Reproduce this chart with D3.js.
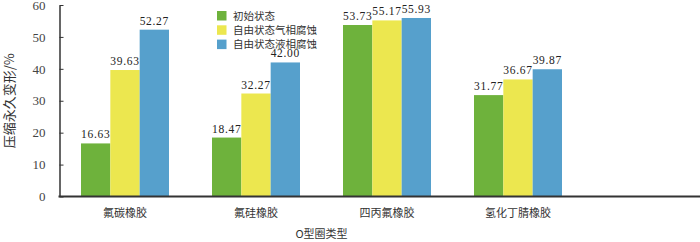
<!DOCTYPE html>
<html>
<head>
<meta charset="utf-8">
<script src="https://cdn.jsdelivr.net/npm/d3@7"></script>
<style>
  body { margin: 0; background: #fff; }
  svg { display: block; }
</style>
</head>
<body>
<svg id="chart" width="700" height="242"></svg>
<script>
// chart data
const categories = ['氟碳橡胶', '氟硅橡胶', '四丙氟橡胶', '氢化丁腈橡胶'];
const seriesNames = ['初始状态', '自由状态气相腐蚀', '自由状态液相腐蚀'];
const initialVals = [16.63, 18.47, 53.73, 31.77];
const gasVals = [39.63, 32.27, 55.17, 36.67];
const liquidVals = [52.27, 42.00, 55.93, 39.87];
const yTicks = [0, 10, 20, 30, 40, 50, 60];

const seriesColors = ['#6eb23c', '#ece74f', '#56a0cc'];
const seriesVals = [initialVals, gasVals, liquidVals];

const svg = d3.select('#chart');
const plotLeft = 59.5, plotRight = 583.5, plotTop = 5, plotBottom = 196.5;
const serif = '"Liberation Serif", "Noto Sans CJK SC", serif';
const cjk = '"Noto Sans CJK SC", sans-serif';

const x = d3.scaleBand().domain(categories).range([plotLeft, plotRight]).padding(0);
const groupW = 88;
const xs = d3.scaleBand().domain(seriesNames).range([0, groupW]).padding(0);
const y = d3.scaleLinear().domain([0, 60]).range([plotBottom, plotTop]);

// bars
const groups = svg.append('g').selectAll('g')
  .data(categories)
  .join('g')
  .attr('transform', c => `translate(${x(c) + (x.bandwidth() - groupW) / 2},0)`);

groups.each(function(c, ci) {
  const g = d3.select(this);
  seriesNames.forEach((s, si) => {
    const v = seriesVals[si][ci];
    g.append('rect')
      .attr('x', xs(s))
      .attr('y', y(v))
      .attr('width', xs.bandwidth())
      .attr('height', y(0) - y(v))
      .attr('fill', seriesColors[si]);
    g.append('text')
      .attr('x', xs(s) + xs.bandwidth() / 2)
      .attr('y', y(v) - 5)
      .attr('text-anchor', 'middle')
      .attr('font-family', serif)
      .attr('font-size', 11.5)
      .attr('letter-spacing', 0.7)
      .attr('fill', '#222')
      .text(v.toFixed(2));
  });
});

// y axis
const yAxis = d3.axisLeft(y).tickValues(yTicks).tickSizeInner(-4).tickSizeOuter(0).tickPadding(14);
const ya = svg.append('g').attr('transform', `translate(${plotLeft},0)`).call(yAxis);
ya.select('.domain').attr('stroke', '#333').attr('stroke-width', 1.5);
ya.selectAll('.tick line').attr('stroke', '#333');
ya.selectAll('.tick text').attr('font-family', serif).attr('font-size', 13).attr('fill', '#444');

// x axis line to the right edge
svg.append('line')
  .attr('x1', plotLeft - 1).attr('x2', 700)
  .attr('y1', y(0)).attr('y2', y(0))
  .attr('stroke', '#333').attr('stroke-width', 2);

// category labels
svg.append('g').selectAll('text')
  .data(categories)
  .join('text')
  .attr('x', c => x(c) + x.bandwidth() / 2)
  .attr('y', 217)
  .attr('text-anchor', 'middle')
  .attr('font-family', cjk)
  .attr('font-size', 11)
  .attr('fill', '#333')
  .text(c => c);

// axis titles
svg.append('text')
  .attr('x', (plotLeft + plotRight) / 2)
  .attr('y', 238)
  .attr('text-anchor', 'middle')
  .attr('font-family', cjk)
  .attr('font-size', 11)
  .attr('fill', '#333')
  .text('O型圈类型');

svg.append('text')
  .attr('transform', `translate(14,${(plotTop + plotBottom) / 2}) rotate(-90)`)
  .attr('text-anchor', 'middle')
  .attr('font-family', cjk)
  .attr('font-size', 13)
  .attr('fill', '#333')
  .text('压缩永久变形/%');

// legend
const legend = svg.append('g').attr('transform', 'translate(217,11)');
seriesNames.forEach((s, i) => {
  const row = legend.append('g').attr('transform', `translate(0,${i * 14.3})`);
  row.append('rect').attr('width', 9.5).attr('height', 9.5).attr('fill', seriesColors[i]);
  row.append('text')
    .attr('x', 16).attr('y', 8.8)
    .attr('font-family', cjk)
    .attr('font-size', 10.5)
    .attr('fill', '#333')
    .text(s);
});
</script>
</body>
</html>
